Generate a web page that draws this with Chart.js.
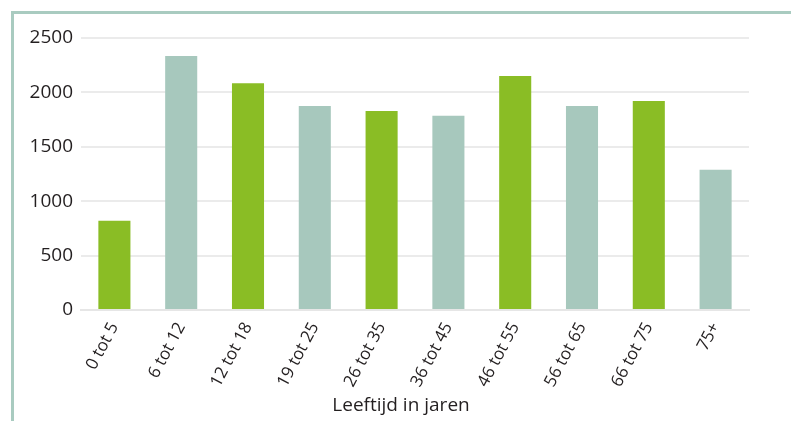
<!DOCTYPE html>
<html>
<head>
<meta charset="utf-8">
<script src="https://cdn.jsdelivr.net/npm/chart.js@4"></script>
<style>
  html, body { margin: 0; padding: 0; background: #fff; }
  #wrap { position: relative; width: 791px; height: 421px; }
  #frame { position: absolute; left: 11px; top: 11px; right: 0; bottom: 0; border-top: 3px solid #a9cbc0; border-left: 3px solid #a9cbc0; }
  canvas { position: absolute; left: 0; top: 0; }
</style>
</head>
<body>
<div id="wrap">
  <div id="frame"></div>
  <canvas id="chart" width="791" height="421"></canvas>
</div>
<script>
const $ = (id) => document.getElementById(id);

const categories = ['0 tot 5', '6 tot 12', '12 tot 18', '19 tot 25', '26 tot 35', '36 tot 45', '46 tot 55', '56 tot 65', '66 tot 75', '75+'];
const values = [820, 2335, 2085, 1875, 1830, 1785, 2150, 1875, 1920, 1290];
const barColors = ['#8abd25', '#a7c8bd', '#8abd25', '#a7c8bd', '#8abd25', '#a7c8bd', '#8abd25', '#a7c8bd', '#8abd25', '#a7c8bd'];
const yTicks = [0, 500, 1000, 1500, 2000, 2500];
const xTitle = 'Leeftijd in jaren';

const TEXT = '#231f20';
const FAMILY = '"Open Sans", "Noto Sans", sans-serif';

// x-axis title drawn by hand so it sits where the original has it
const axisTitle = {
    id: 'axisTitle',
    afterDraw(chart) {
        const ctx = chart.ctx;
        ctx.save();
        ctx.font = `19px ${FAMILY}`;
        ctx.fillStyle = TEXT;
        ctx.textAlign = 'center';
        ctx.textBaseline = 'middle';
        ctx.fillText(xTitle, 401, 406);
        ctx.restore();
    }
};

new Chart($('chart'), {
    type: 'bar',
    data: {
        labels: categories,
        datasets: [{ data: values, backgroundColor: barColors, borderWidth: 0, categoryPercentage: 1, barPercentage: 0.48 }]
    },
    options: {
        responsive: false,
        animation: false,
        layout: { padding: { top: 38, right: 42, bottom: 0, left: 0 } },
        plugins: { legend: { display: false }, tooltip: { enabled: false } },
        scales: {
            x: {
                afterFit: (s) => { s.height = 111; },
                grid: { display: false, drawTicks: false },
                border: { display: true, color: '#e6e6e6', width: 2 },
                ticks: { color: TEXT, font: { family: FAMILY, size: 17 }, minRotation: 62, maxRotation: 62, padding: 9 }
            },
            y: {
                min: 0,
                max: 2500,
                afterFit: (s) => { s.width = 81; },
                afterBuildTicks: (s) => { s.ticks = yTicks.map(v => ({ value: v })); },
                grid: { color: '#ebebeb', lineWidth: 2, drawTicks: false },
                border: { display: false },
                ticks: { color: TEXT, font: { family: FAMILY, size: 19 }, padding: 8, callback: (v) => String(v) }
            }
        }
    },
    plugins: [axisTitle]
});
</script>
</body>
</html>
